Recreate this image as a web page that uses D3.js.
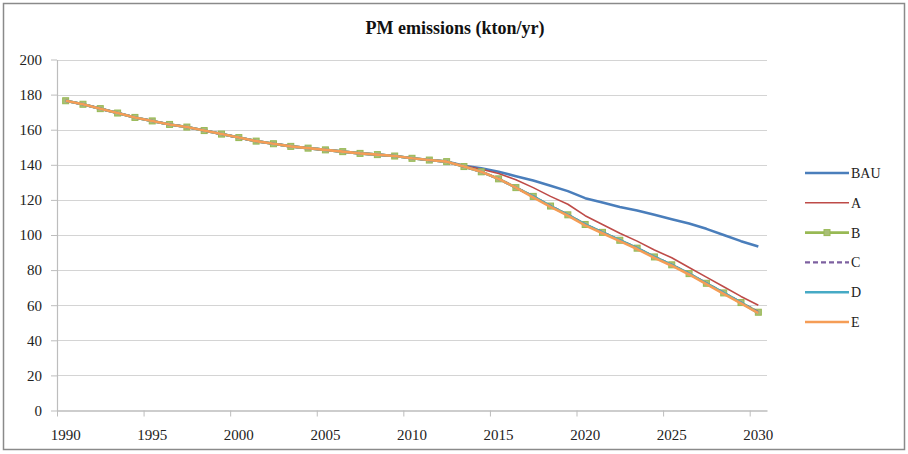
<!DOCTYPE html>
<html>
<head>
<meta charset="utf-8">
<script src="https://cdn.jsdelivr.net/npm/d3@7"></script>
<style>
  html, body { margin: 0; padding: 0; background: #fff; }
  svg { display: block; }
</style>
</head>
<body>
<svg id="chart" width="908" height="454"></svg>
<script>
// Years on the category axis
const years = d3.range(1990, 2031);
const labelYears = [1990, 1995, 2000, 2005, 2010, 2015, 2020, 2025, 2030];
const yTicks = [0, 20, 40, 60, 80, 100, 120, 140, 160, 180, 200];

// Common historical emissions 1990-2012 (kton/yr)
const history = [176.5, 174.5, 172, 169.5, 167, 165, 163, 161.5, 159.5, 157.5,
                 155.5, 153.5, 152, 150.5, 149.5, 148.5, 147.5, 146.5, 145.8, 145,
                 143.7, 142.7, 141.8];

// Projections 2013-2030 per scenario
const bau = [139.5, 138, 136, 133.5, 131, 128, 125, 121, 118.5, 116, 114, 111.5, 109, 106.5, 103.5, 100, 96.5, 93.5];
const scenA = [139.5, 137.5, 135, 131.5, 127, 122, 117.5, 111, 106, 101, 96.5, 91.5, 87, 81.5, 76, 70.5, 65, 60];
const scenB = [139, 136, 132, 127, 122, 116.5, 111.5, 106, 101.5, 97, 92.5, 87.5, 83, 78, 72.5, 67, 61.5, 56];
const scenC = [139, 136, 132, 127, 122, 116.5, 111.5, 106, 101.5, 97, 92.5, 87.5, 83, 78, 72.5, 67, 61.5, 56];
const scenD = [139, 136, 132, 127, 122, 116.5, 111.5, 106, 101.5, 97, 92.5, 87.5, 83, 78, 72.5, 67, 61.5, 55.5];
const scenE = [139, 136, 132, 127, 121.5, 116, 111, 105.5, 101, 96.5, 92, 87, 82.5, 77.5, 72, 66.5, 61, 55.5];

const seriesNames = ["BAU", "A", "B", "C", "D", "E"];
const seriesColors = ["#4A7EBB", "#BE4B48", "#98B954", "#7D60A0", "#46AAC5", "#F59D56"];

const seriesData = [bau, scenA, scenB, scenC, scenD, scenE].map(p => history.concat(p));
const styles = [
  { width: 2.6, dash: null, marker: false },
  { width: 1.6, dash: null, marker: false },
  { width: 2.6, dash: null, marker: true },
  { width: 2.4, dash: "5,3", marker: false },
  { width: 2.6, dash: null, marker: false },
  { width: 2.6, dash: null, marker: false }
];

const serif = '"Liberation Serif", serif';
const svg = d3.select("#chart");

// Outer chart frame
svg.append("rect")
  .attr("x", 3.5).attr("y", 3.5).attr("width", 901).attr("height", 446)
  .attr("fill", "#fff").attr("stroke", "#8a8a8a").attr("stroke-width", 1.5);

const plot = { left: 57, right: 767, top: 59.5, bottom: 410.5 };

const x = d3.scaleBand().domain(years).range([plot.left, plot.right]).padding(0);
const xc = d => x(d) + x.bandwidth() / 2;
const y = d3.scaleLinear().domain([0, 200]).range([plot.bottom, plot.top]);

// Title
svg.append("text")
  .attr("x", 455).attr("y", 34)
  .attr("text-anchor", "middle")
  .style("font-family", serif).style("font-weight", "bold").style("font-size", "18px")
  .attr("fill", "#111")
  .text("PM emissions (kton/yr)");

// Horizontal gridlines
svg.append("g").selectAll("line")
  .data(yTicks.filter(v => v > 0))
  .join("line")
  .attr("x1", plot.left).attr("x2", plot.right)
  .attr("y1", d => Math.round(y(d)) + 0.5).attr("y2", d => Math.round(y(d)) + 0.5)
  .attr("stroke", "#d4d4d4").attr("stroke-width", 1.2);

// Y axis
const yAxis = svg.append("g")
  .attr("transform", `translate(${plot.left},0)`)
  .call(d3.axisLeft(y).tickValues(yTicks).tickSize(6).tickPadding(9).tickSizeOuter(0));
yAxis.select(".domain").attr("stroke", "#bdbdbd").attr("stroke-width", 1.2);
yAxis.selectAll(".tick line").attr("stroke", "#bdbdbd");
yAxis.selectAll(".tick text")
  .style("font-family", serif).style("font-size", "15px").attr("fill", "#222");

// X axis: labels centred on categories, tick marks on category boundaries
const xAxis = svg.append("g")
  .attr("transform", `translate(0,${plot.bottom})`)
  .call(d3.axisBottom(x).tickValues(labelYears).tickSize(0).tickPadding(19).tickSizeOuter(0));
xAxis.select(".domain").attr("stroke", "#bdbdbd").attr("stroke-width", 1.6);
xAxis.selectAll(".tick text")
  .style("font-family", serif).style("font-size", "15px").attr("fill", "#222");
svg.append("g").selectAll("line")
  .data(labelYears)
  .join("line")
  .attr("x1", d => x(d) + 0.5).attr("x2", d => x(d) + 0.5)
  .attr("y1", plot.bottom).attr("y2", plot.bottom + 6)
  .attr("stroke", "#bdbdbd");

// Series lines
const line = d3.line().x((d, i) => xc(years[i])).y(d => y(d));
const seriesG = svg.append("g");
seriesData.forEach((vals, k) => {
  const st = styles[k];
  seriesG.append("path")
    .datum(vals)
    .attr("fill", "none")
    .attr("stroke", seriesColors[k])
    .attr("stroke-width", st.width)
    .attr("stroke-linejoin", "round")
    .attr("stroke-dasharray", st.dash)
    .attr("d", line);
  if (st.marker) {
    seriesG.append("g").selectAll("rect")
      .data(vals)
      .join("rect")
      .attr("x", (d, i) => xc(years[i]) - 3)
      .attr("y", d => y(d) - 3)
      .attr("width", 6).attr("height", 6)
      .attr("fill", "#a9bf78")
      .attr("stroke", "#98B954").attr("stroke-width", 1);
  }
});

// Legend
const legend = svg.append("g");
seriesNames.forEach((name, k) => {
  const ly = 173 + k * 29.8;
  const st = styles[k];
  legend.append("line")
    .attr("x1", 805).attr("x2", 849)
    .attr("y1", ly).attr("y2", ly)
    .attr("stroke", seriesColors[k])
    .attr("stroke-width", st.width)
    .attr("stroke-dasharray", st.dash);
  if (st.marker) {
    legend.append("rect")
      .attr("x", 824).attr("y", ly - 3).attr("width", 6).attr("height", 6)
      .attr("fill", "#a9bf78").attr("stroke", "#98B954").attr("stroke-width", 1);
  }
  legend.append("text")
    .attr("x", 851).attr("y", ly + 5)
    .style("font-family", serif).style("font-size", "14px").attr("fill", "#222")
    .text(name);
});
</script>
</body>
</html>
